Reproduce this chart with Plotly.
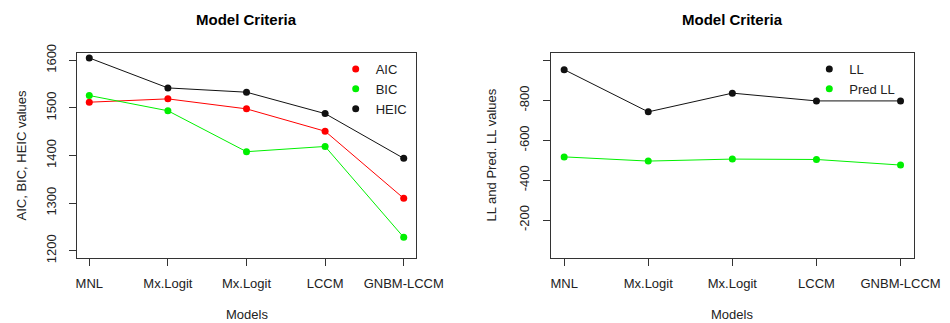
import plotly.graph_objects as go

models = ["MNL", "Mx.Logit", "Mx.Logit", "LCCM", "GNBM-LCCM"]
aic = [1512, 1519, 1498, 1451, 1310]
bic = [1526, 1494, 1408, 1419, 1228]
heic = [1605, 1542, 1533, 1488, 1394]
ll = [-955, -743, -837, -798, -798]
pred_ll = [-517, -496, -506, -504, -476]

left_ticks = [1200, 1300, 1400, 1500, 1600]
right_ticks = [-1000, -800, -600, -400, -200]
right_ticktext = ["", "-800", "-600", "-400", "-200"]

xs = list(range(1, len(models) + 1))
W, H = 950, 323
FONT = "Liberation Sans, Arial, sans-serif"
TXT = "#222222"
GREEN = "#00f000"

fig = go.Figure()

def add_series(y, color, name, xa, ya, legend):
    fig.add_trace(go.Scatter(x=xs, y=y, mode="lines", line=dict(color=color, width=1),
                             showlegend=False, xaxis=xa, yaxis=ya, hoverinfo="skip"))
    fig.add_trace(go.Scatter(x=xs, y=y, mode="markers", name=name,
                             marker=dict(color=color, size=7),
                             xaxis=xa, yaxis=ya, legend=legend))

add_series(aic, "#ff0000", "AIC", "x", "y", "legend")
add_series(bic, GREEN, "BIC", "x", "y", "legend")
add_series(heic, "#111111", "HEIC", "x", "y", "legend")
add_series(ll, "#111111", "LL", "x2", "y2", "legend2")
add_series(pred_ll, GREEN, "Pred LL", "x2", "y2", "legend2")

L1, R1 = 76.7 / W, 416.3 / W
L2, R2 = 550.7 / W, 914 / W
T, B = 1 - 52.7 / H, 1 - 258.3 / H

axis_common = dict(showline=True, mirror=True, linecolor="#333333", linewidth=1,
                   ticks="outside", ticklen=7, tickcolor="#333333", showgrid=False,
                   zeroline=False, automargin=False,
                   tickfont=dict(family=FONT, size=13, color=TXT))

fig.update_layout(
    width=W, height=H, margin=dict(l=0, r=0, t=0, b=0, autoexpand=False),
    paper_bgcolor="white", plot_bgcolor="white",
    font=dict(family=FONT, color=TXT),
    xaxis=dict(domain=[L1, R1], range=[0.84, 5.16], tickvals=xs, ticktext=models, anchor="y",
               ticklabelstandoff=6, **axis_common),
    yaxis=dict(domain=[B, T], range=[1184, 1616], tickvals=left_ticks, tickangle=-90, anchor="x",
               ticklabelstandoff=8, **axis_common),
    xaxis2=dict(domain=[L2, R2], range=[0.84, 5.16], tickvals=xs, ticktext=models, anchor="y2",
                ticklabelstandoff=6, **axis_common),
    yaxis2=dict(domain=[B, T], range=[-8, -1040], tickvals=right_ticks, ticktext=right_ticktext,
                tickangle=-90, anchor="x2", ticklabelstandoff=9, **axis_common),
    legend=dict(x=(355.7 - 20) / W, y=1 - 54 / H, xanchor="left", yanchor="top",
                bgcolor="rgba(0,0,0,0)", font=dict(family=FONT, size=13, color=TXT)),
    legend2=dict(x=(829.3 - 20) / W, y=1 - 54 / H, xanchor="left", yanchor="top",
                 bgcolor="rgba(0,0,0,0)", font=dict(family=FONT, size=13, color=TXT)),
)

def ann(text, x, y, size=13, bold=False, angle=0):
    fig.add_annotation(text=f"<b>{text}</b>" if bold else text, x=x / W, y=1 - y / H,
                       xref="paper", yref="paper", showarrow=False, textangle=angle,
                       xanchor="center", yanchor="middle",
                       font=dict(family=FONT, size=size, color=TXT if not bold else "#000"))

ann("Model Criteria", 246.5, 19, size=15, bold=True)
ann("Model Criteria", 732.3, 19, size=15, bold=True)
ann("Models", 246.5, 314, size=13)
ann("Models", 732.3, 314, size=13)
ann("AIC, BIC, HEIC values", 21, 155.5, size=13, angle=-90)
ann("LL and Pred. LL values", 491, 155.5, size=13, angle=-90)

fig.write_html("out.html", config={"displayModeBar": False},
               post_script="document.body.style.margin='0';document.body.style.overflow='hidden';")
